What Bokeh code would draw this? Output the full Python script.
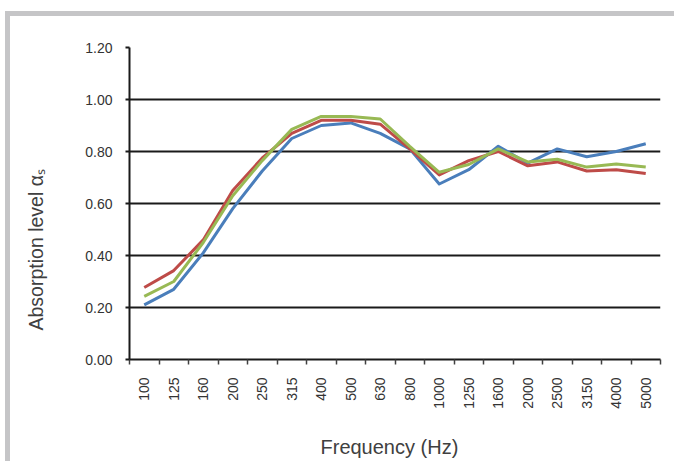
from math import pi
from bokeh.plotting import figure
from bokeh.models import Range1d, FixedTicker, NumeralTickFormatter, Title
from bokeh.embed import file_html
from bokeh.resources import INLINE

freqs = ["100", "125", "160", "200", "250", "315", "400", "500", "630", "800",
         "1000", "1250", "1600", "2000", "2500", "3150", "4000", "5000"]
blue = [0.21, 0.27, 0.41, 0.58, 0.725, 0.85, 0.90, 0.91, 0.87, 0.81,
        0.675, 0.73, 0.82, 0.755, 0.81, 0.78, 0.80, 0.83]
red = [0.277, 0.342, 0.46, 0.65, 0.775, 0.87, 0.92, 0.92, 0.905, 0.81,
       0.71, 0.765, 0.80, 0.745, 0.76, 0.725, 0.73, 0.715]
green = [0.243, 0.30, 0.45, 0.63, 0.765, 0.885, 0.935, 0.935, 0.925, 0.82,
         0.72, 0.75, 0.81, 0.76, 0.77, 0.74, 0.752, 0.74]
y_ticks = [0.0, 0.2, 0.4, 0.6, 0.8, 1.0, 1.2]

xs = [i + 0.5 for i in range(len(freqs))]

FONT = "Liberation Sans"

p = figure(width=669, height=450, output_backend="svg", toolbar_location=None,
           x_range=Range1d(0, len(freqs)), y_range=Range1d(0, 1.2),
           min_border_left=119, min_border_right=19, min_border_top=31,
           min_border_bottom=107)
p.styles = {"margin-left": "5px", "margin-top": "11px",
            "border-left": "5px solid #c5c5c7", "border-top": "5px solid #c5c5c7"}
p.outline_line_color = None
p.background_fill_color = "white"
p.border_fill_color = "white"

p.xgrid.grid_line_color = None
p.ygrid.grid_line_color = "#1a1a1a"
p.ygrid.grid_line_width = 2

xa = p.xaxis[0]
xa.ticker = FixedTicker(ticks=xs, minor_ticks=list(range(len(freqs) + 1)))
xa.major_label_overrides = {x: f for x, f in zip(xs, freqs)}
xa.major_label_orientation = pi / 2
xa.major_tick_line_color = None
xa.major_tick_out = 0
xa.major_tick_in = 0
xa.minor_tick_out = 5
xa.minor_tick_in = 0
xa.minor_tick_line_color = "#404040"
xa.minor_tick_line_width = 1.5
xa.axis_line_color = "#1a1a1a"
xa.axis_line_width = 2
xa.major_label_text_font = FONT
xa.major_label_text_font_size = "14px"
xa.major_label_text_color = "#333333"
xa.major_label_standoff = 13
# invisible spacer label, pushes the title below further away
xa.axis_label = " "
xa.axis_label_text_font_size = "1px"
xa.axis_label_standoff = 17

ya = p.yaxis[0]
ya.ticker = FixedTicker(ticks=y_ticks)
ya.formatter = NumeralTickFormatter(format="0.00")
ya.major_tick_out = 4
ya.major_tick_in = 0
ya.minor_tick_line_color = None
ya.major_tick_line_color = "#1a1a1a"
ya.major_tick_line_width = 2
ya.axis_line_color = "#1a1a1a"
ya.axis_line_width = 2
ya.major_label_text_font = FONT
ya.major_label_text_font_size = "14px"
ya.major_label_text_color = "#333333"
ya.major_label_standoff = 13
ya.axis_label = " "
ya.axis_label_text_font_size = "1px"
ya.axis_label_standoff = 31

for vals, col in ((blue, "#4a7ebb"), (red, "#be4b48"), (green, "#98b954")):
    p.line(xs, vals, line_color=col, line_width=3, line_join="round")

p.add_layout(Title(text="Frequency (Hz)", align="left", offset=191, standoff=2,
                   text_font=FONT, text_font_size="20px", text_font_style="normal",
                   text_color="#404040"), "below")
p.add_layout(Title(text="Absorption level αₛ", align="left", offset=29, standoff=2,
                   text_font=FONT, text_font_size="19.5px", text_font_style="normal",
                   text_color="#404040"), "left")

open("out.html", "w").write(file_html(p, INLINE))
